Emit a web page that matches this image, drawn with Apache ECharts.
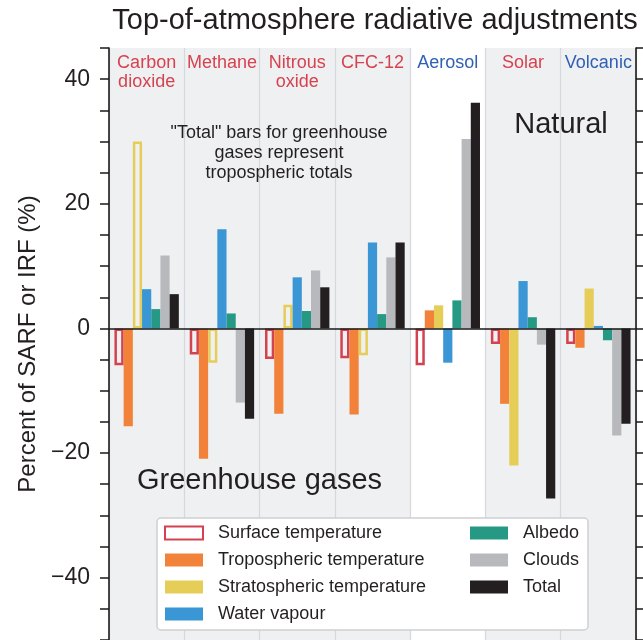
<!DOCTYPE html>
<html><head><meta charset="utf-8">
<script src="https://cdn.jsdelivr.net/npm/echarts@6/dist/echarts.min.js"></script>
<style>html,body{margin:0;padding:0;background:#fff}#c{width:643px;height:640px}</style>
</head><body><div id="c"></div>
<script>
// ---- data ----
const categories = ['Carbon\ndioxide', 'Methane', 'Nitrous\noxide', 'CFC-12', 'Aerosol', 'Solar', 'Volcanic'];
const blueCategories = ['Aerosol', 'Volcanic'];
const ghgCategories = ['Carbon\ndioxide', 'Methane', 'Nitrous\noxide', 'CFC-12'];
const seriesNames = ['Surface temperature', 'Tropospheric temperature', 'Stratospheric temperature', 'Water vapour', 'Albedo', 'Clouds', 'Total'];
const surfaceTemp = [-5.9, -4.2, -4.9, -4.8, -5.9, -2.5, -2.5];
const troposphericTemp = [-15.7, -20.9, -13.7, -13.8, 2.9, -12.1, -3.1];
const stratosphericTemp = [30.0, -5.5, 3.8, -4.3, 3.7, -22.0, 6.4];
const waterVapour = [6.3, 15.9, 8.2, 13.8, -5.5, 7.6, 0.4];
const albedo = [3.1, 2.4, 2.8, 2.3, 4.5, 1.8, -1.9];
const clouds = [11.7, -11.9, 9.3, 11.4, 30.4, -2.6, -17.2];
const total = [5.5, -14.5, 6.6, 13.8, 36.2, -27.3, -15.3];
const yTickLabels = [40, 20, 0, -20, -40];
const titleText = 'Top-of-atmosphere radiative adjustments';
const yAxisName = 'Percent of SARF or IRF (%)';
const noteText = '"Total" bars for greenhouse\ngases represent\ntropospheric totals';
const naturalText = 'Natural';
const ghgText = 'Greenhouse gases';

// ---- styles ----
const FONT = '"Liberation Sans", Arial, Helvetica, sans-serif';
const TXT = '#231f20';
const RED = '#d7424f';
const BLUE = '#2f60b4';
const BG = '#eff0f2';
const colors = ['#d3434f', '#f2823a', '#e5cd58', '#3a96d4', '#269985', '#b8b9bc', '#231f20'];
const BW = 9.2;

function hollow(c) {
  return { color: 'rgba(255,255,255,0)', borderColor: c, borderWidth: 2.5 };
}

const seriesData = [surfaceTemp, troposphericTemp, stratosphericTemp, waterVapour, albedo, clouds, total];
const series = seriesNames.map((name, si) => {
  let data = seriesData[si];
  let itemStyle = { color: colors[si] };
  if (si === 0) itemStyle = hollow(colors[0]);
  if (si === 2) {
    data = data.map((v, i) => ghgCategories.includes(categories[i]) ? { value: v, itemStyle: hollow(colors[2]) } : v);
  }
  return {
    name, type: 'bar', data, barWidth: BW, barGap: '0%',
    xAxisIndex: 0, yAxisIndex: 0, itemStyle,
    emphasis: { disabled: true }, animation: false
  };
});

const chart = echarts.init(document.getElementById('c'));
const yFmt = v => yTickLabels.includes(v) ? (v < 0 ? '\u2212' + Math.abs(v) : String(v)) : '';
const legendText = { fontSize: 18, color: TXT, fontFamily: FONT, padding: [0, 0, 0, 10] };

chart.setOption({
  animation: false,
  textStyle: { fontFamily: FONT },
  grid: { left: 109, right: 7, top: 48, bottom: 0 },
  xAxis: [
    { type: 'category', data: categories, position: 'bottom', z: 5,
      axisLine: { onZero: true, lineStyle: { color: '#1a1a1a', width: 1.5 } },
      axisTick: { show: false }, axisLabel: { show: false }, splitLine: { show: false } },
    { type: 'category', data: categories, position: 'top',
      axisLine: { show: false }, axisTick: { show: false, interval: 0 },
      axisLabel: { inside: true, interval: 0, margin: 6, fontSize: 18, lineHeight: 19, fontFamily: FONT,
        color: (val) => blueCategories.includes(val) ? BLUE : RED },
      splitLine: { show: true, interval: 0, lineStyle: { color: '#d7d8db', width: 1.2 } },
      splitArea: { show: true, interval: 0, areaStyle: { color: categories.map(c => c === 'Aerosol' ? '#ffffff' : BG) } } }
  ],
  yAxis: [
    { type: 'value', min: -50, max: 45, interval: 5, position: 'left',
      axisLine: { show: true, lineStyle: { color: '#1a1a1a', width: 1.6 } },
      axisTick: { show: true, length: 9, lineStyle: { width: 1.5 } },
      splitLine: { show: false },
      axisLabel: { formatter: yFmt, fontSize: 23, color: TXT, margin: 19, fontFamily: FONT },
      name: yAxisName, nameLocation: 'middle', nameGap: 64,
      nameTextStyle: { fontSize: 24, color: TXT, fontFamily: FONT } },
    { type: 'value', min: -50, max: 45, interval: 5, position: 'right',
      axisLine: { show: true, lineStyle: { color: '#1a1a1a', width: 1.6 } },
      axisTick: { show: true, length: 8, lineStyle: { width: 1.5 } },
      splitLine: { show: false }, axisLabel: { show: false } }
  ],
  legend: [
    { data: seriesNames.slice(0, 4), orient: 'vertical', left: 164, top: 524, itemWidth: 38, itemHeight: 13,
      icon: 'rect', itemGap: 9, textStyle: legendText, z: 20, selectedMode: false, padding: 0 },
    { data: seriesNames.slice(4), orient: 'vertical', left: 470, top: 524, itemWidth: 38, itemHeight: 13,
      icon: 'rect', itemGap: 9, textStyle: legendText, z: 20, selectedMode: false, padding: 0 }
  ],
  graphic: [
    { type: 'text', z: 20, x: 375, y: 21,
      style: { text: titleText, font: '29px ' + FONT, fill: TXT, align: 'center', verticalAlign: 'middle' } },
    { type: 'text', z: 10, x: 279, y: 123,
      style: { text: noteText, font: '18px ' + FONT, fill: TXT, align: 'center', verticalAlign: 'top', lineHeight: 20 } },
    { type: 'text', z: 10, x: 561, y: 125,
      style: { text: naturalText, font: '29px ' + FONT, fill: TXT, align: 'center', verticalAlign: 'middle' } },
    { type: 'text', z: 10, x: 259.5, y: 481,
      style: { text: ghgText, font: '29px ' + FONT, fill: TXT, align: 'center', verticalAlign: 'middle' } },
    { type: 'rect', z: 15, shape: { x: 157, y: 518, width: 431, height: 112, r: 4 },
      style: { fill: '#ffffff', stroke: '#cfd0d2', lineWidth: 1.5 } }
  ],
  series
});
</script></body></html>
